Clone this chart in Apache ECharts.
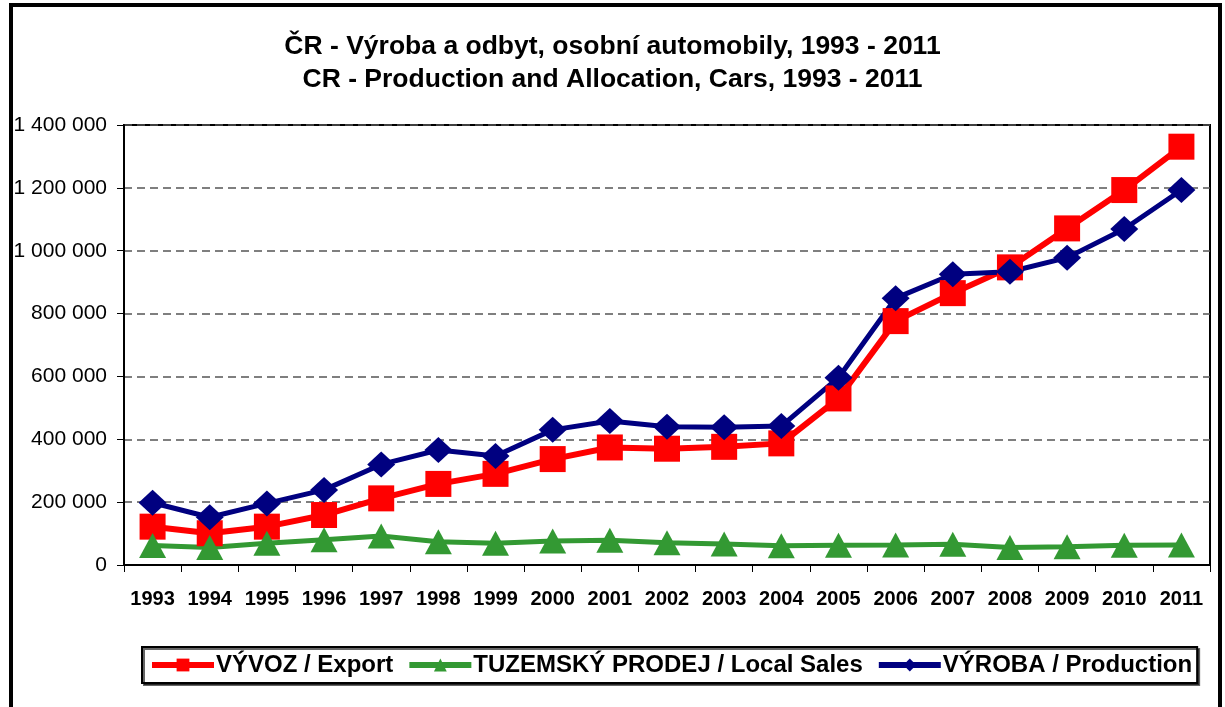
<!DOCTYPE html>
<html>
<head>
<meta charset="utf-8">
<script src="https://cdn.jsdelivr.net/npm/echarts@6/dist/echarts.min.js"></script>
<style>
  html, body { margin: 0; padding: 0; background: #fff; }
  #chart { width: 1225px; height: 707px; }
</style>
</head>
<body>
<div id="chart"></div>
<script>
const years = ['1993', '1994', '1995', '1996', '1997', '1998', '1999', '2000', '2001', '2002',
  '2003', '2004', '2005', '2006', '2007', '2008', '2009', '2010', '2011']

const exportCars = [122000, 101000, 122000, 159000, 212000, 258000, 290000, 337000, 374000, 370000,
  376000, 387000, 530000, 776000, 865000, 947000, 1071000, 1193000, 1331000]

const localSales = [62000, 56000, 69000, 80000, 92000, 74000, 69000, 76000, 79000, 71000,
  67000, 61000, 63000, 64000, 66000, 56000, 58000, 63000, 64000]

const production = [198000, 152000, 196000, 239000, 320000, 366000, 347000, 430000, 458000, 440000,
  438000, 442000, 596000, 849000, 925000, 933000, 978000, 1069000, 1193000]

const seriesNames = ['VÝVOZ / Export', 'TUZEMSKÝ PRODEJ / Local Sales', 'VÝROBA / Production']

const font = '"Liberation Sans", Arial, sans-serif'

const formatThousands = (v) => String(v).replace(/\B(?=(\d{3})+(?!\d))/g, ' ')

const chart = echarts.init(document.getElementById('chart'))

chart.setOption({
  animation: false,
  backgroundColor: '#fff',
  graphic: [{
    type: 'rect',
    shape: { x: 11, y: 5, width: 1209, height: 730 },
    style: { fill: 'none', stroke: '#000', lineWidth: 4 },
    z: -1
  }],
  title: {
    text: 'ČR - Výroba a odbyt, osobní automobily, 1993 - 2011\nCR - Production and Allocation, Cars, 1993 - 2011',
    left: 'center',
    top: 25,
    textStyle: { fontFamily: font, fontSize: 26.5, fontWeight: 'bold', color: '#000', lineHeight: 33 }
  },
  legend: {
    left: 142,
    top: 647,
    padding: [6, 5, 6, 7],
    itemGap: 13,
    itemWidth: 62,
    itemHeight: 16,
    borderColor: '#000',
    borderWidth: 2,
    backgroundColor: '#fff',
    shadowColor: 'rgba(0,0,0,0.6)',
    shadowOffsetX: 2,
    shadowOffsetY: 2,
    lineStyle: { width: 6 },
    textStyle: { fontFamily: font, fontSize: 24, fontWeight: 'bold', color: '#000', padding: [0, 0, 0, -3] },
    data: seriesNames
  },
  grid: {
    left: 124,
    top: 125,
    right: 15,
    bottom: 142,
    show: true,
    borderColor: '#000',
    borderWidth: 2
  },
  xAxis: {
    type: 'category',
    data: years,
    boundaryGap: true,
    axisLine: { lineStyle: { color: '#000', width: 2 } },
    axisTick: { show: true, interval: 0, length: 7, lineStyle: { color: '#000', width: 1 } },
    axisLabel: { interval: 0, margin: 24, fontFamily: font, fontSize: 20, fontWeight: 'bold', color: '#000' }
  },
  yAxis: {
    type: 'value',
    min: 0,
    max: 1400000,
    interval: 200000,
    axisLine: { show: true, lineStyle: { color: '#000', width: 2 } },
    axisTick: { show: true, length: 7, lineStyle: { color: '#000', width: 1 } },
    axisLabel: { margin: 17, fontFamily: font, fontSize: 21, color: '#000', formatter: formatThousands },
    splitLine: { show: true, lineStyle: { color: '#555', width: 1.5, type: [8, 5] } }
  },
  series: [
    {
      name: seriesNames[0],
      type: 'line',
      data: exportCars,
      symbol: 'rect',
      symbolSize: 26,
      color: '#FF0000',
      lineStyle: { width: 6 }
    },
    {
      name: seriesNames[1],
      type: 'line',
      data: localSales,
      symbol: 'triangle',
      symbolSize: [27, 25],
      color: '#339933',
      lineStyle: { width: 5 }
    },
    {
      name: seriesNames[2],
      type: 'line',
      data: production,
      symbol: 'diamond',
      symbolSize: [28, 26],
      color: '#000080',
      lineStyle: { width: 5 }
    }
  ]
})
</script>
</body>
</html>
